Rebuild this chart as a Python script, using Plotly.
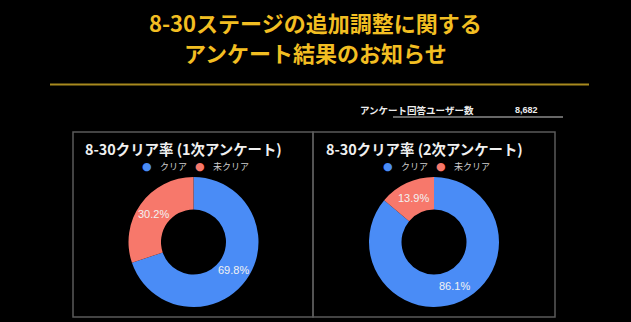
import math
import plotly.graph_objects as go

W, H = 631, 322

title_lines = ["8-30ステージの追加調整に関する", "アンケート結果のお知らせ"]
respondent_label = "アンケート回答ユーザー数"
respondent_count = "8,682"

labels = ["クリア", "未クリア"]
colors = ["#4A8CF6", "#F7786B"]
panel_titles = ["8-30クリア率 (1次アンケート)", "8-30クリア率 (2次アンケート)"]
survey1_values = [69.8, 30.2]
survey2_values = [86.1, 13.9]

JP = "Noto Sans CJK JP"

def px(x):
    return x / W

def py(y):
    return 1 - y / H

fig = go.Figure()

annotations = []

pie_specs = [
    (survey1_values, (128.5, 258.5), (177, 307)),
    (survey2_values, (369, 499), (177, 307)),
]
HOLE = 0.5
for vals, (x0, x1), (y0, y1) in pie_specs:
    fig.add_trace(go.Pie(
        labels=labels, values=vals, hole=HOLE, sort=False, direction="clockwise",
        rotation=0, marker=dict(colors=colors, line=dict(width=0)),
        textinfo="none",
        domain=dict(x=[px(x0), px(x1)], y=[py(y1), py(y0)]),
        showlegend=False, hoverinfo="label+percent",
    ))
    # value labels at mid-angle of each slice, mid-radius of the ring
    cx, cy = (x0 + x1) / 2, (y0 + y1) / 2
    r = (x1 - x0) / 2
    rm = r * (1 + HOLE) / 2
    total = sum(vals)
    cum = 0
    for v in vals:
        mid = (cum + v / 2) / total * 2 * math.pi
        cum += v
        lx = cx + rm * math.sin(mid)
        ly = cy - rm * math.cos(mid)
        annotations.append(dict(xref="paper", yref="paper", x=px(lx), y=py(ly),
                                text=f"{v:.1f}%", showarrow=False, xanchor="center",
                                yanchor="middle",
                                font=dict(family="Liberation Sans, Arial", size=11,
                                          color="#F2F2F2")))

shapes = []
# gold separator line
shapes.append(dict(type="line", xref="paper", yref="paper", x0=px(50), x1=px(589),
                   y0=py(84.5), y1=py(84.5), line=dict(color="#A88A1E", width=2)))
# respondents underline
shapes.append(dict(type="line", xref="paper", yref="paper", x0=px(393), x1=px(563),
                   y0=py(117), y1=py(117), line=dict(color="#8A8A8A", width=1.5)))
# panel borders
for x0, x1 in [(73, 313), (313, 555)]:
    shapes.append(dict(type="rect", xref="paper", yref="paper", x0=px(x0), x1=px(x1),
                       y0=py(317), y1=py(132), line=dict(color="#5A5A5A", width=1.5),
                       fillcolor="rgba(0,0,0,0)"))

for i, line in enumerate(title_lines):
    annotations.append(dict(xref="paper", yref="paper", x=px(315), y=py(22 + 30 * i),
                            text=f"<b>{line}</b>", showarrow=False, xanchor="center",
                            yanchor="middle",
                            font=dict(family=JP, size=22, color="#F2BE22")))
annotations.append(dict(xref="paper", yref="paper", x=px(358), y=py(110),
                        text=f"<b>{respondent_label}</b>", showarrow=False,
                        xanchor="left", yanchor="middle",
                        font=dict(family=JP, size=9.5, color="#EDEDED")))
annotations.append(dict(xref="paper", yref="paper", x=px(513), y=py(110),
                        text=f"<b>{respondent_count}</b>", showarrow=False,
                        xanchor="left", yanchor="middle",
                        font=dict(family="Liberation Sans, Arial", size=9, color="#EDEDED")))

for pt, left in zip(panel_titles, [83, 324]):
    annotations.append(dict(xref="paper", yref="paper", x=px(left), y=py(148),
                            text=f"<b>{pt}</b>", showarrow=False, xanchor="left",
                            yanchor="middle",
                            font=dict(family=JP, size=14.4, color="#F0F0F0")))
    # legend
    lx = left + 64
    for lab, col, off in zip(labels, colors, [0, 53]):
        annotations.append(dict(xref="paper", yref="paper", x=px(lx + off), y=py(166),
                                text="●", showarrow=False, xanchor="center",
                                yanchor="middle",
                                font=dict(family="DejaVu Sans", size=11, color=col)))
        annotations.append(dict(xref="paper", yref="paper", x=px(lx + off + 11), y=py(166),
                                text=lab, showarrow=False, xanchor="left",
                                yanchor="middle",
                                font=dict(family=JP, size=9, color="#CFCFCF")))

fig.update_layout(
    width=W, height=H, margin=dict(l=0, r=0, t=0, b=0),
    paper_bgcolor="black", plot_bgcolor="black",
    shapes=shapes, annotations=annotations, showlegend=False,
)

fig.write_html("out.html")
